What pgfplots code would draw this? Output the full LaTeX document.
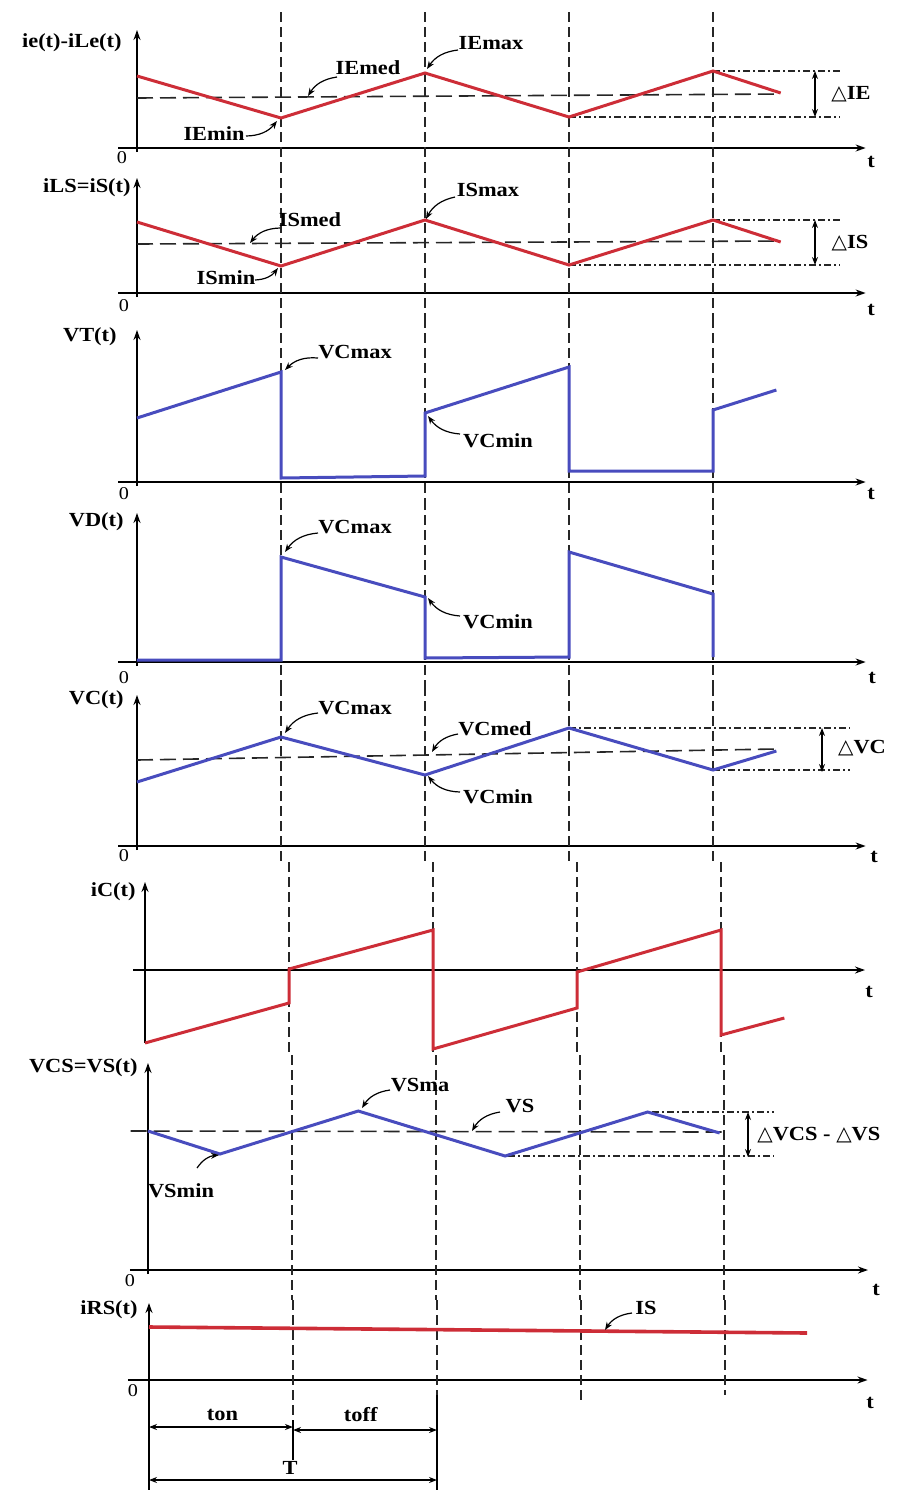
\documentclass[border=0pt]{standalone}
\usepackage{pgfplots}
\pgfplotsset{compat=1.18}
\usepackage{fontspec}
\setmainfont{Liberation Serif}[FakeStretch=1.12]
\newfontfamily\symf{DejaVu Sans}
\usetikzlibrary{arrows.meta}
\definecolor{cred}{RGB}{205,45,55}
\definecolor{cblue}{RGB}{72,76,190}
\pgfplotsset{
  panel/.style={
    x=72pt, y=0.5pt, anchor=origin,
    axis lines=middle,
    every inner x axis line/.append style={line width=0.8pt,-{Stealth[length=5pt,width=3.5pt]}},
    every inner y axis line/.append style={line width=0.8pt,-{Stealth[length=5pt,width=3.5pt]}},
    xtick=\empty, ytick=\empty,
    clip=false, unbounded coords=jump,
    xmin=-0.13, xmax=5.06,
  },
  vdash/.style={black!85, line width=0.55pt, dash pattern=on 5pt off 2.5pt},
  med/.style={black!85, line width=0.8pt, dash pattern=on 8pt off 3.5pt},
  dd/.style={black!85, line width=0.6pt, dash pattern=on 3.5pt off 1.5pt on 1pt off 1.5pt},
  sig/.style={line width=1.5pt},
}
\begin{document}
\begin{tikzpicture}
\path[use as bounding box] (0,0) rectangle (454.5pt,-745pt);

% Panel 1: ie(t)-iLe(t)
\begin{axis}[panel, at={(68.5pt,-74pt)}, ymin=-4, ymax=118]
\addplot[vdash] coordinates {(1,136) (1,-15) (nan,nan) (2,136) (2,-15) (nan,nan) (3,136) (3,-15) (nan,nan) (4,136) (4,-15)};
\addplot[med] coordinates {(0,50) (4.47,54)};
\addplot[dd] coordinates {(4,77) (4.88,77)};
\addplot[dd] coordinates {(3,31) (4.88,31)};
\addplot[cred, sig] coordinates {(0,72) (1,30) (2,75) (3,31) (4,77) (4.47,55)};
\end{axis}

% Panel 2: iLS=iS(t)
\begin{axis}[panel, at={(68.5pt,-146.5pt)}, ymin=-4, ymax=115]
\addplot[vdash] coordinates {(1,130) (1,-25) (nan,nan) (2,130) (2,-25) (nan,nan) (3,130) (3,-25) (nan,nan) (4,130) (4,-25)};
\addplot[med] coordinates {(0,49) (4.47,52)};
\addplot[dd] coordinates {(4,73) (4.88,73)};
\addplot[dd] coordinates {(3,28) (4.88,28)};
\addplot[cred, sig] coordinates {(0,71) (1,27) (2,73) (3,28) (4,73) (4.47,51)};
\end{axis}

% Panel 3: VT(t)
\begin{axis}[panel, at={(68.5pt,-241pt)}, ymin=-4, ymax=152]
\addplot[vdash] coordinates {(1,164) (1,-18) (nan,nan) (2,164) (2,-18) (nan,nan) (3,164) (3,-18) (nan,nan) (4,164) (4,-18)};
\addplot[cblue, sig] coordinates {(0,64) (1,110) (1,4) (2,6) (2,69) (3,115) (3,11) (4,11) (4,72) (4.44,92)};
\end{axis}

% Panel 4: VD(t)
\begin{axis}[panel, at={(68.5pt,-331pt)}, ymin=-4, ymax=149]
\addplot[vdash] coordinates {(1,162) (1,-24) (nan,nan) (2,162) (2,-24) (nan,nan) (3,162) (3,-24) (nan,nan) (4,162) (4,-24)};
\addplot[cblue, sig] coordinates {(0,2) (1,2) (1,105) (2,65) (2,4) (3,5) (3,110) (4,68) (4,5)};
\end{axis}

% Panel 5: VC(t)
\begin{axis}[panel, at={(68.5pt,-423pt)}, ymin=-4, ymax=151]
\addplot[vdash] coordinates {(1,160) (1,-16) (nan,nan) (2,160) (2,-16) (nan,nan) (3,160) (3,-16) (nan,nan) (4,160) (4,-16)};
\addplot[med] coordinates {(0,86) (4.44,97)};
\addplot[dd] coordinates {(3,118) (4.95,118)};
\addplot[dd] coordinates {(4,76) (4.95,76)};
\addplot[cblue, sig] coordinates {(0,64) (1,109) (2,71) (3,118) (4,76) (4.44,95)};
\end{axis}

% Panel 6: iC(t)
\begin{axis}[panel, at={(72.5pt,-485pt)}, xmin=-0.08, xmax=5.0, ymin=-73, ymax=88]
\addplot[vdash] coordinates {(1,108) (1,-85) (nan,nan) (2,108) (2,-85) (nan,nan) (3,108) (3,-85) (nan,nan) (4,108) (4,-85)};
\addplot[cred, sig] coordinates {(0,-73) (1,-33) (1,1) (2,40) (2,-79) (3,-38) (3,-2) (4,40) (4,-65) (4.44,-48)};
\end{axis}

% Panel 7: VCS=VS(t)
\begin{axis}[panel, at={(74pt,-635pt)}, xmin=-0.125, xmax=5.0, ymin=-4, ymax=207]
\addplot[vdash] coordinates {(1,215) (1,-30) (nan,nan) (2,215) (2,-30) (nan,nan) (3,215) (3,-30) (nan,nan) (4,215) (4,-30)};
\addplot[med] coordinates {(-0.12,139) (4,138)};
\addplot[dd] coordinates {(3.5,158) (4.35,158)};
\addplot[dd] coordinates {(2.5,114) (4.35,114)};
\addplot[cblue, sig] coordinates {(0,139) (0.5,116) (1.46,159) (2.48,114) (3.47,158) (3.97,137)};
\end{axis}

% Panel 8: iRS(t)
\begin{axis}[panel, at={(74.5pt,-690pt)}, xmin=-0.146, xmax=4.99, ymin=-4, ymax=77]
\addplot[vdash] coordinates {(1,80) (1,-40) (nan,nan) (2,80) (2,-15) (nan,nan) (3,80) (3,-22) (nan,nan) (4,80) (4,-15)};
\addplot[black, line width=0.7pt] coordinates {(0,0) (0,-110) (nan,nan) (1,-40) (1,-80) (nan,nan) (2,-15) (2,-110)};
\addplot[cred, line width=1.8pt] coordinates {(0,53) (4.57,47)};
\addplot[black, line width=0.7pt, {Stealth[length=4pt,width=3pt]}-{Stealth[length=4pt,width=3pt]}] coordinates {(0,-47) (1,-47)};
\addplot[black, line width=0.7pt, {Stealth[length=4pt,width=3pt]}-{Stealth[length=4pt,width=3pt]}] coordinates {(1,-50) (2,-50)};
\addplot[black, line width=0.7pt, {Stealth[length=4pt,width=3pt]}-{Stealth[length=4pt,width=3pt]}] coordinates {(0,-100) (2,-100)};
\node[font=\fontsize{10}{12}\selectfont\bfseries] at (axis cs:0.51,-35) {ton};
\node[font=\fontsize{10}{12}\selectfont\bfseries] at (axis cs:1.47,-35) {toff};
\node[font=\fontsize{10}{12}\selectfont\bfseries] at (axis cs:0.98,-88) {T};
\end{axis}

% Annotations in pixel coordinates
\begin{scope}[x=0.5pt, y=-0.5pt,
  lab/.style={font=\fontsize{10}{12}\selectfont\bfseries, inner sep=0pt},
  zero/.style={font=\fontsize{9}{10}\selectfont, inner sep=0pt},
  ann/.style={black, line width=0.6pt, -{Stealth[length=4pt,width=3pt]}},
  dim/.style={black, line width=0.6pt, {Stealth[length=4pt,width=3pt]}-{Stealth[length=4pt,width=3pt]}}]
% panel labels
\node[lab, anchor=east] at (122,43) {ie(t)-iLe(t)};
\node[lab, anchor=east] at (131,188) {iLS=iS(t)};
\node[lab, anchor=east] at (117,337) {VT(t)};
\node[lab, anchor=east] at (124,522) {VD(t)};
\node[lab, anchor=east] at (124,700) {VC(t)};
\node[lab, anchor=east] at (136,892) {iC(t)};
\node[lab, anchor=east] at (138,1068) {VCS=VS(t)};
\node[lab, anchor=east] at (138,1310) {iRS(t)};
% zeros
\node[zero] at (122,158) {0};
\node[zero] at (124,306) {0};
\node[zero] at (124,494) {0};
\node[zero] at (124,678) {0};
\node[zero] at (124,856) {0};
\node[zero] at (130,1281) {0};
\node[zero] at (133,1391) {0};
% t labels
\foreach \px/\py in {871/162, 871/310, 871/494, 872/678, 874/857, 869/992, 876/1290, 870/1403}
  \node[lab] at (\px,\py) {t};
% panel 1
\node[lab] at (368,68) {IEmed};
\draw[ann] (337,77) to[bend right=25] (308,96);
\node[lab] at (491,43) {IEmax};
\draw[ann] (458,50) to[bend right=25] (427,69);
\node[lab] at (214,134) {IEmin};
\draw[ann] (246,136) to[bend right=25] (277,121);
\draw[dim] (815,71) -- (815,117);
\node[lab] at (851,94) {{\symf\mdseries △}IE};
% panel 2
\node[lab] at (310,220) {ISmed};
\draw[ann] (280,228) to[bend right=25] (250,243);
\node[lab] at (488,190) {ISmax};
\draw[ann] (455,197) to[bend right=25] (426,219);
\node[lab] at (226,278) {ISmin};
\draw[ann] (255,280) to[bend right=25] (278,268);
\draw[dim] (815,220) -- (815,265);
\node[lab] at (850,243) {{\symf\mdseries △}IS};
% panel 3
\node[lab] at (355,352) {VCmax};
\draw[ann] (318,358) to[bend right=25] (285,370);
\node[lab] at (498,441) {VCmin};
\draw[ann] (460,434) to[bend left=25] (428,416);
% panel 4
\node[lab] at (355,527) {VCmax};
\draw[ann] (318,533) to[bend right=25] (285,552);
\node[lab] at (498,622) {VCmin};
\draw[ann] (460,616) to[bend left=25] (428,598);
% panel 5
\node[lab] at (355,708) {VCmax};
\draw[ann] (318,713) to[bend right=25] (285,733);
\node[lab] at (495,729) {VCmed};
\draw[ann] (458,734) to[bend right=25] (432,752);
\node[lab] at (498,797) {VCmin};
\draw[ann] (460,792) to[bend left=25] (428,776);
\draw[dim] (822,728) -- (822,772);
\node[lab] at (862,748) {{\symf\mdseries △}VC};
% panel 7
\node[lab] at (420,1085) {VSma};
\draw[ann] (390,1090) to[bend right=25] (362,1108);
\node[lab] at (520,1106) {VS};
\draw[ann] (500,1112) to[bend right=25] (472,1131);
\node[lab] at (181,1191) {VSmin};
\draw[ann] (197,1168) to[bend left=25] (219,1155);
\draw[dim] (748,1112) -- (748,1157);
\node[lab, anchor=west] at (757,1135) {{\symf\mdseries △}VCS - {\symf\mdseries △}VS};
% panel 8
\node[lab] at (646,1308) {IS};
\draw[ann] (632,1313) to[bend right=25] (605,1330);
\end{scope}
\end{tikzpicture}
\end{document}
